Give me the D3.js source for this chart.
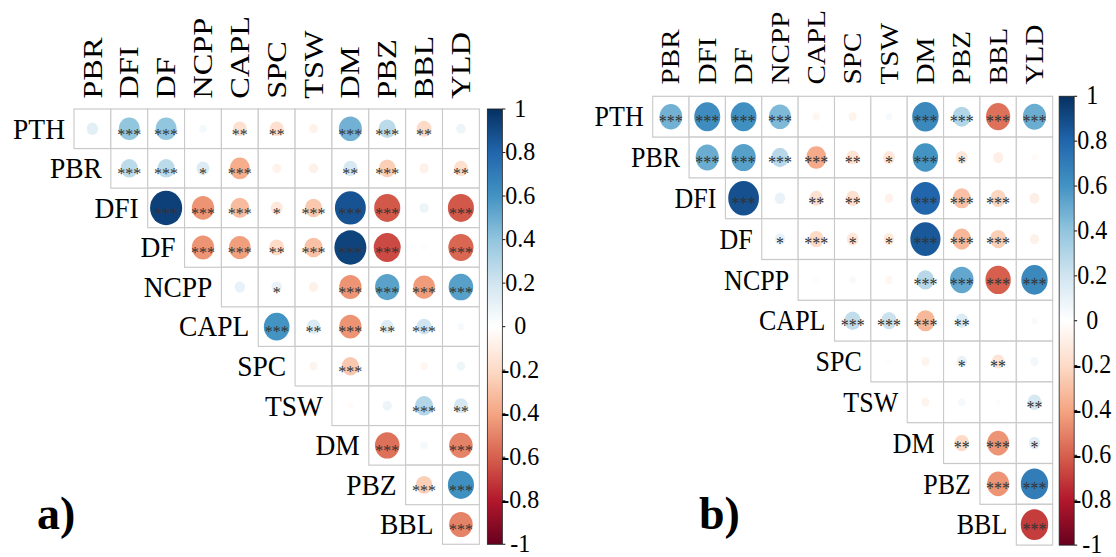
<!DOCTYPE html>
<html>
<head>
<meta charset="utf-8">
<script src="https://cdn.jsdelivr.net/npm/d3@7"></script>
<style>
  html, body { margin: 0; padding: 0; background: #fff; }
</style>
</head>
<body>
<svg id="chart" width="1116" height="557" font-family="'Liberation Serif', 'DejaVu Serif', serif"></svg>
<script>
// variables on the rows / columns of both correlograms
var rowLabels = ['PTH', 'PBR', 'DFI', 'DF', 'NCPP', 'CAPL', 'SPC', 'TSW', 'DM', 'PBZ', 'BBL'];
var colLabels = ['PBR', 'DFI', 'DF', 'NCPP', 'CAPL', 'SPC', 'TSW', 'DM', 'PBZ', 'BBL', 'YLD'];

// panel a) : row i holds the values for columns i..10
var corrA = [
  [0.12, 0.40, 0.40, 0.05, -0.17, -0.17, -0.07, 0.48, 0.27, -0.20, 0.08],
  [0.27, 0.27, 0.15, -0.37, -0.07, -0.08, 0.18, -0.25, -0.08, -0.18],
  [0.94, -0.45, -0.32, -0.13, -0.27, 0.87, -0.62, 0.08, -0.62],
  [-0.45, -0.42, -0.20, -0.30, 0.93, -0.66, 0.02, -0.58],
  [0.10, 0.10, -0.08, -0.45, 0.54, -0.43, 0.55],
  [0.60, 0.16, -0.45, 0.15, 0.20, 0.04],
  [-0.06, -0.27, 0.01, -0.05, 0.07],
  [-0.03, 0.08, 0.30, 0.18],
  [-0.55, 0.05, -0.50],
  [-0.25, 0.62],
  [-0.50]
];
var sigA = [
  ['', '***', '***', '', '**', '**', '', '***', '***', '**', ''],
  ['***', '***', '*', '***', '', '', '**', '***', '', '**'],
  ['***', '***', '***', '*', '***', '***', '***', '', '***'],
  ['***', '***', '**', '***', '***', '***', '', '***'],
  ['', '*', '', '***', '***', '***', '***'],
  ['***', '**', '***', '**', '***', ''],
  ['', '***', '', '', ''],
  ['', '', '***', '**'],
  ['***', '', '***'],
  ['***', '***'],
  ['***']
];

// panel b)
var corrB = [
  [0.48, 0.63, 0.62, 0.45, -0.05, -0.06, 0.04, 0.65, 0.30, -0.55, 0.50],
  [0.50, 0.55, 0.28, -0.38, -0.15, -0.13, 0.60, -0.13, -0.09, -0.03],
  [0.88, 0.10, -0.17, -0.17, -0.07, 0.80, -0.30, -0.22, -0.09],
  [0.10, -0.20, -0.13, -0.11, 0.85, -0.33, -0.25, -0.08],
  [-0.02, 0.04, -0.05, 0.28, 0.52, -0.60, 0.65],
  [0.25, 0.22, -0.33, 0.15, 0.005, 0.03],
  [-0.02, -0.06, 0.10, -0.15, 0.06],
  [-0.06, 0.05, 0.02, 0.18],
  [-0.20, -0.45, 0.12],
  [-0.45, 0.70],
  [-0.70]
];
var sigB = [
  ['***', '***', '***', '***', '', '', '', '***', '***', '***', '***'],
  ['***', '***', '***', '***', '**', '*', '***', '*', '', ''],
  ['***', '', '**', '**', '', '***', '***', '***', ''],
  ['*', '***', '*', '*', '***', '***', '***', ''],
  ['', '', '', '***', '***', '***', '***'],
  ['***', '***', '***', '**', '', ''],
  ['', '', '*', '**', ''],
  ['', '', '', '**'],
  ['**', '***', '*'],
  ['***', '***'],
  ['***']
];

var barTicks = [1, 0.8, 0.6, 0.4, 0.2, 0, -0.2, -0.4, -0.6, -0.8, -1];
var paletteStops = [-1, -0.8, -0.6, -0.4, -0.2, 0, 0.2, 0.4, 0.6, 0.8, 1];
var palette = ['#67001F', '#B2182B', '#D6604D', '#F4A582', '#FDDBC7', '#FFFFFF',
               '#D1E5F0', '#92C5DE', '#4393C3', '#2166AC', '#053061'];

var color = d3.scaleLinear().domain(paletteStops).range(palette).interpolate(d3.interpolateRgb);

var svg = d3.select('#chart');
var defs = svg.append('defs');
var grad = defs.append('linearGradient')
  .attr('id', 'cbar')
  .attr('x1', 0).attr('y1', 0).attr('x2', 0).attr('y2', 1);
d3.range(0, 1.0001, 0.02).forEach(function(t) {
  grad.append('stop')
    .attr('offset', t)
    .attr('stop-color', color(1 - 2 * t));
});

function drawPanel(opt) {
  var w = opt.cellW;
  var sy = opt.cellH / opt.cellW;
  var size = w * colLabels.length;

  var g = svg.append('g')
    .attr('transform', 'translate(' + opt.x0 + ',' + opt.y0 + ') scale(1,' + sy + ')');

  var x = d3.scaleBand().domain(colLabels).range([0, size]);
  var y = d3.scaleBand().domain(rowLabels).range([0, size]);
  var r = d3.scaleSqrt().domain([0, 1]).range([0, 0.45 * w]);

  var cells = [];
  opt.corr.forEach(function(row, i) {
    row.forEach(function(v, k) {
      cells.push({row: rowLabels[i], col: colLabels[i + k], v: v, sig: opt.sig[i][k]});
    });
  });

  g.append('g').selectAll('rect')
    .data(cells)
    .enter()
    .append('rect')
    .attr('x', function(d) { return x(d.col); })
    .attr('y', function(d) { return y(d.row); })
    .attr('width', x.bandwidth())
    .attr('height', y.bandwidth())
    .attr('fill', '#fff')
    .attr('stroke', '#c9c9c9')
    .attr('stroke-width', 1.1);

  g.append('g').selectAll('circle')
    .data(cells)
    .enter()
    .append('circle')
    .attr('cx', function(d) { return x(d.col) + w / 2; })
    .attr('cy', function(d) { return y(d.row) + w / 2; })
    .attr('r', function(d) { return r(Math.abs(d.v)); })
    .attr('fill', function(d) { return color(d.v); });

  g.append('g').selectAll('text')
    .data(cells.filter(function(d) { return d.sig; }))
    .enter()
    .append('text')
    .attr('x', function(d) { return x(d.col) + w / 2; })
    .attr('y', function(d) { return y(d.row) + w / 2 + 10; })
    .attr('text-anchor', 'middle')
    .attr('font-size', 16)
    .attr('fill', '#333')
    .text(function(d) { return d.sig; });

  // row labels
  g.append('g').selectAll('text')
    .data(rowLabels)
    .enter()
    .append('text')
    .attr('x', function(d, i) { return x(colLabels[i]) - 9; })
    .attr('y', function(d) { return y(d) + w / 2 + opt.fs * 0.33; })
    .attr('text-anchor', 'end')
    .attr('font-size', opt.fs)
    .text(function(d) { return d; });

  // column labels (stretched a little along their length, as in the figure)
  g.append('g').selectAll('text')
    .data(colLabels)
    .enter()
    .append('text')
    .attr('transform', function(d) {
      return 'translate(' + (x(d) + w / 2 + opt.fs * 0.33) + ',' + (-opt.colGap) +
        ') rotate(-90) scale(' + opt.colStretch + ',1)';
    })
    .attr('font-size', opt.fs)
    .text(function(d) { return d; });

  // colour bar
  var bx = size + opt.barGap;
  var by = d3.scaleLinear().domain([1, -1]).range([0, size]);
  g.append('rect')
    .attr('x', bx)
    .attr('y', 0)
    .attr('width', 15)
    .attr('height', size)
    .attr('fill', 'url(#cbar)')
    .attr('stroke', '#222')
    .attr('stroke-width', 0.8);

  g.append('g').selectAll('line')
    .data(barTicks)
    .enter()
    .append('line')
    .attr('x1', bx + 15)
    .attr('x2', bx + 18)
    .attr('y1', function(d) { return by(d); })
    .attr('y2', function(d) { return by(d); })
    .attr('stroke', '#222');

  g.append('g').selectAll('text')
    .data(barTicks)
    .enter()
    .append('text')
    .attr('x', bx + 33)
    .attr('y', function(d) { return by(d) + 7; })
    .attr('text-anchor', 'middle')
    .attr('font-size', 24)
    .text(function(d) { return d; });

  svg.append('text')
    .attr('x', opt.tagX)
    .attr('y', 529)
    .attr('font-size', 46)
    .attr('font-weight', 'bold')
    .text(opt.tag);
}

drawPanel({
  corr: corrA, sig: sigA, tag: 'a)', tagX: 37,
  x0: 74, y0: 109, cellW: 36.85, cellH: 39.57,
  fs: 27.5, colGap: 9.5, barGap: 8, colStretch: 1.1
});

drawPanel({
  corr: corrB, sig: sigB, tag: 'b)', tagX: 699,
  x0: 652.7, y0: 96.3, cellW: 36.36, cellH: 40.8,
  fs: 26, colGap: 10.5, barGap: 6.5, colStretch: 1.0
});
</script>
</body>
</html>
